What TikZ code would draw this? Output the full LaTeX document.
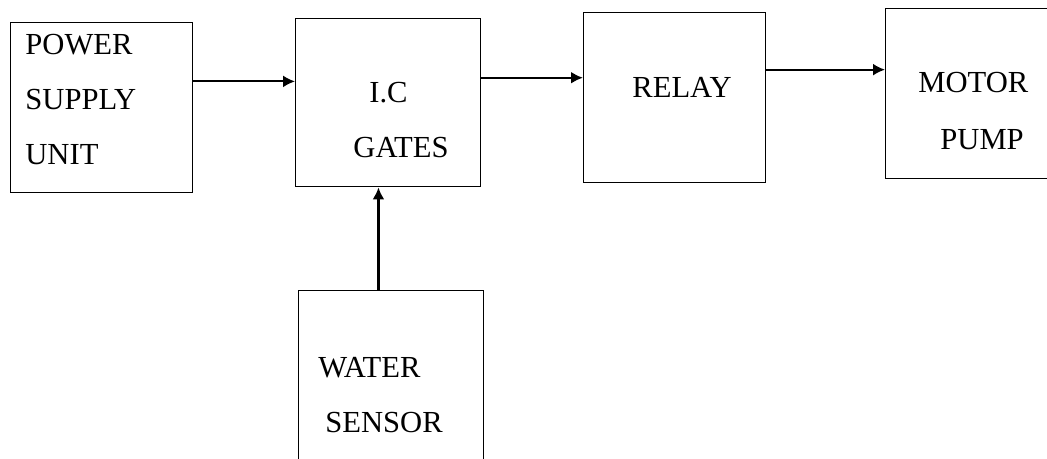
\documentclass[tikz,border=0pt]{standalone}
\usepackage{fontspec}
\setmainfont{Liberation Serif}
\usetikzlibrary{arrows.meta}
\begin{document}
\begin{tikzpicture}[x=0.5pt, y=-0.5pt, >={Latex[length=6pt, width=6pt]},
    blk/.style={draw, line width=0.7pt, anchor=north west, inner sep=0pt},
    lbl/.style={anchor=base west, inner sep=0pt, font=\fontsize{15.3}{18}\selectfont}]
    \useasboundingbox (0,0) rectangle (1047,459);
    % blocks
    \node[blk, minimum width=91pt, minimum height=85pt] (psu) at (10,22) {};
    \node[blk, minimum width=92.5pt, minimum height=84pt] (ic) at (295,18) {};
    \node[blk, minimum width=91pt, minimum height=85pt] (relay) at (583,12) {};
    \node[blk, minimum width=82.5pt, minimum height=85pt] (motor) at (885,8) {};
    \node[blk, minimum width=92.5pt, minimum height=90pt] (sensor) at (298,290) {};
    % labels
    \node[lbl] (psu1) at (25,55) {POWER};
    \node[lbl] (psu2) at (25,110) {SUPPLY};
    \node[lbl] (psu3) at (25,165) {UNIT};
    \node[lbl] (ic1) at (369,103) {I.C};
    \node[lbl] (ic2) at (353,158) {GATES};
    \node[lbl] (relay1) at (632,98) {RELAY};
    \node[lbl] (motor1) at (918,93) {MOTOR};
    \node[lbl] (motor2) at (940,150) {PUMP};
    \node[lbl] (sensor1) at (318,377) {WATER};
    \node[lbl] (sensor2) at (325,432) {SENSOR};
    % connectors
    \draw[line width=1pt, ->] (psu.16.5) -- (psu.16.5 -| ic.west);
    \draw[line width=1.2pt, ->] (ic.15.7) -- (ic.15.7 -| relay.west);
    \draw[line width=1pt, ->] (relay.17.7) -- (relay.17.7 -| motor.west);
    \draw[line width=1.5pt, ->] (sensor.98.5) -- (sensor.98.5 |- ic.south);
\end{tikzpicture}
\end{document}
